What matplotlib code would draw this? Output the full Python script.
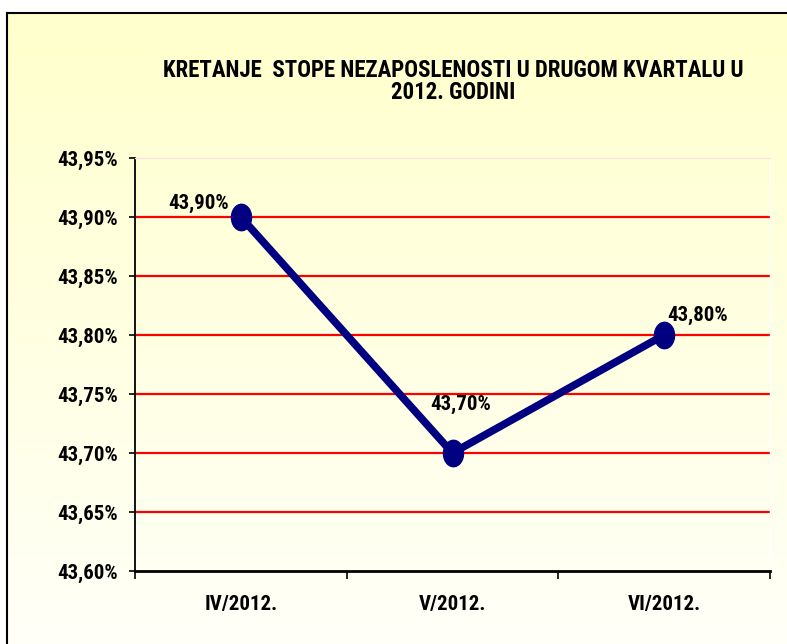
import matplotlib
matplotlib.use("Agg")
import matplotlib.pyplot as plt
import numpy as np
from matplotlib.path import Path
from matplotlib.ticker import FixedLocator, FuncFormatter

categories = ["IV/2012.", "V/2012.", "VI/2012."]
values = [43.90, 43.70, 43.80]
value_labels = ["43,90%", "43,70%", "43,80%"]
y_ticks = [43.60, 43.65, 43.70, 43.75, 43.80, 43.85, 43.90, 43.95]
title = "KRETANJE  STOPE NEZAPOSLENOSTI U DRUGOM KVARTALU U\n2012. GODINI"

FAM = ["Roboto Condensed", "DejaVu Sans"]
plt.rcParams["font.family"] = FAM
plt.rcParams["font.weight"] = "bold"

W, H = 787, 644
fig = plt.figure(figsize=(W / 100, H / 100), dpi=100, facecolor="white")

# framed gradient background
fx0, fy_top = 7, 13
bg = fig.add_axes([fx0 / W, 0, 1 - fx0 / W, (H - fy_top) / H])
grad = np.linspace(0, 1, 256).reshape(-1, 1)
top = np.array([255, 255, 204]) / 255
bot = np.array([255, 255, 248]) / 255
img = top[None, None, :] * (1 - grad[:, :, None]) + bot[None, None, :] * grad[:, :, None]
bg.imshow(img, aspect="auto", extent=[0, 1, 0, 1], origin="upper")
bg.set_xlim(0, 1)
bg.set_ylim(0, 1)
bg.set_xticks([])
bg.set_yticks([])
for s in ["right", "bottom"]:
    bg.spines[s].set_visible(False)
bg.spines["top"].set_linewidth(1.5)
bg.spines["left"].set_linewidth(1.5)
bg.set_zorder(0)

# main axes
L, R, T, B = 135, 770, 158, 571
ax = fig.add_axes([L / W, (H - B) / H, (R - L) / W, (B - T) / H])
ax.set_facecolor("none")
ax.set_zorder(1)
ax.set_xlim(0, 3)
ax.set_ylim(y_ticks[0], y_ticks[-1])

for yv in y_ticks[1:-1]:
    ax.axhline(yv, color="#FF0000", lw=1.6, zorder=1)

x = np.arange(len(categories)) + 0.5
theta = np.linspace(0, 2 * np.pi, 60)
ell = Path(np.column_stack([0.76 * np.cos(theta), np.sin(theta)]))
ax.plot(x, values, color="#000080", lw=5.5, marker=ell, ms=19,
        mfc="#000080", mec="#000080", zorder=3, solid_capstyle="round")

offsets = [(-42, 14), (8, 49), (33, 20)]
for xi, v, lab, (dx, dy) in zip(x, values, value_labels, offsets):
    ax.annotate(lab, (xi, v), xytext=(dx * 0.72, dy * 0.72), textcoords="offset points",
                ha="center", va="center", fontsize=15, fontweight="bold",
                color="black", zorder=4)

ax.yaxis.set_major_locator(FixedLocator(y_ticks))
ax.yaxis.set_major_formatter(FuncFormatter(lambda v, p: f"{v:.2f}".replace(".", ",") + "%"))
ax.tick_params(axis="y", direction="out", length=4, width=1.2, pad=8, labelsize=15)
for t in ax.get_yticklabels():
    t.set_fontweight("bold")

ax.set_xticks([0, 1, 2, 3])
ax.set_xticklabels([])
ax.set_xticks(x, minor=True)
ax.set_xticklabels(categories, minor=True)
ax.tick_params(axis="x", which="major", direction="out", length=6, width=1.2)
ax.tick_params(axis="x", which="minor", length=0, pad=17, labelsize=15)
for t in ax.get_xticklabels(minor=True):
    t.set_fontweight("bold")

ax.spines["left"].set_linewidth(1.3)
ax.spines["bottom"].set_linewidth(2)
ax.spines["top"].set_color("#FFE4E4")
ax.spines["right"].set_color("#FFFFFF")
ax.spines["top"].set_linewidth(1)
ax.spines["right"].set_linewidth(1)

fig.text(453 / W, 1 - 81.5 / H, title, ha="center", va="center", fontsize=16.5,
         fontweight="bold", linespacing=0.98)

fig.savefig("out.png", dpi=100, facecolor="white")
